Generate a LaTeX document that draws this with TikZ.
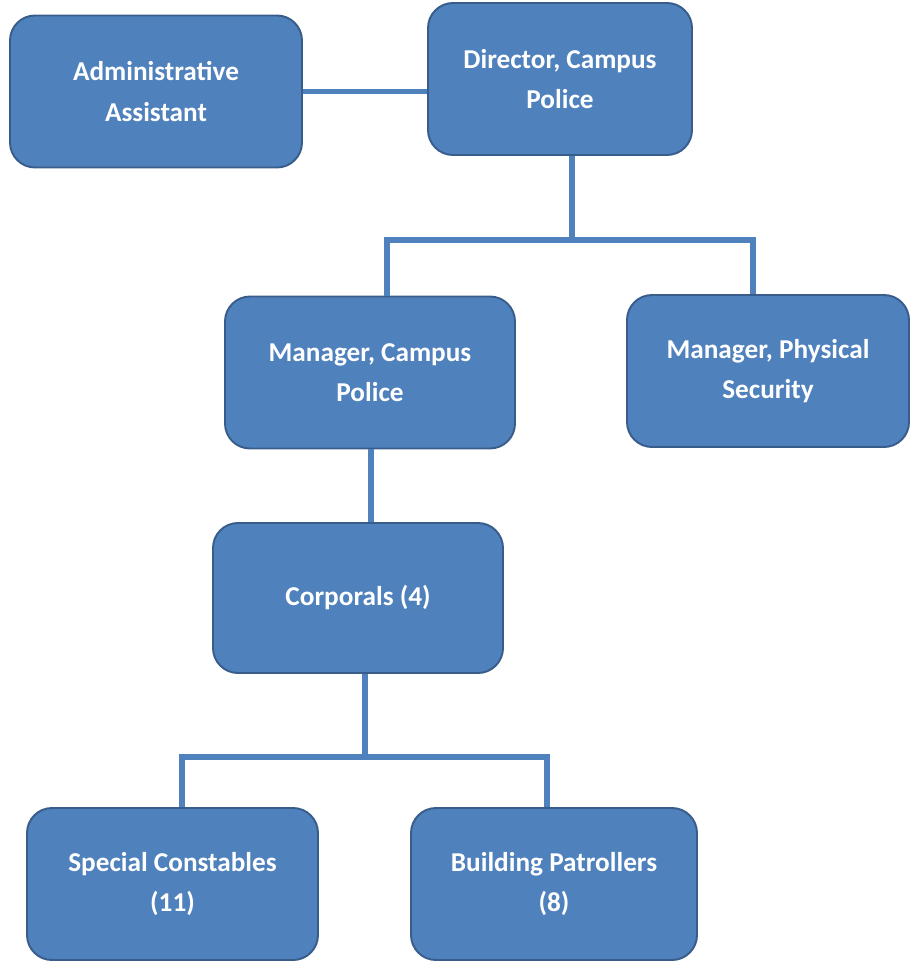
\documentclass[tikz,border=0pt]{standalone}
\usepackage{fontspec}
\setmainfont{Carlito}
\usepackage{tikz}
\usepackage{xcolor}
\definecolor{boxblue}{HTML}{4F81BD}
\definecolor{boxedge}{HTML}{385D8A}

\begin{document}
\begin{tikzpicture}[
			unit/.style={draw=boxedge,line width=1.1pt,fill=boxblue,rounded corners=0.5cm,
				text=white,font=\fontsize{15.5}{23}\selectfont\bfseries,align=center,
				minimum height=3.04cm,inner sep=0pt},
			link/.style={draw=boxblue,line width=2.9pt}]
			\useasboundingbox (0,0) rectangle (18.18,-19.22);
			% top row
			\node[unit,minimum width=5.84cm] (adm) at(3.12,-1.83) {Administrative\\Assistant};
			\node[unit,minimum width=5.28cm] (dir) at(11.2,-1.58) {Director, Campus\\Police};
			% managers
			\node[unit,minimum width=5.8cm] (mcp) at(7.4,-7.45) {Manager, Campus\\Police};
			\node[unit,minimum width=5.64cm] (mps) at(15.36,-7.42) {Manager, Physical\\Security};
			\node[unit,minimum width=5.8cm,minimum height=3cm] (cor) at(7.16,-11.96) {Corporals (4)};
			% bottom row
			\node[unit,minimum width=5.82cm] (spc) at(3.45,-17.68) {Special Constables\\(11)};
			\node[unit,minimum width=5.72cm] (bpt) at(11.08,-17.68) {Building Patrollers\\(8)};
			% lines
			\coordinate (t1) at(11.44,-4.8);
			\coordinate (t1l) at(7.74,-4.8);
			\coordinate (t1r) at(15.06,-4.8);
			\coordinate (t3) at(7.42,-9.7);
			\coordinate (t2) at(7.3,-15.14);
			\coordinate (t2l) at(3.64,-15.14);
			\coordinate (t2r) at(10.94,-15.14);
			\draw[link] (adm.east) -- (adm.east -| dir.west);
			\draw[link] (dir.south -| t1) -- (t1);
			\draw[link] (mcp.north -| t1l) -- (t1l) -- (t1r) -- (mps.north -| t1r);
			\draw[link] (mcp.south -| t3) -- (cor.north -| t3);
			\draw[link] (cor.south -| t2) -- (t2);
			\draw[link] (spc.north -| t2l) -- (t2l) -- (t2r) -- (bpt.north -| t2r);
		\end{tikzpicture}
\end{document}
